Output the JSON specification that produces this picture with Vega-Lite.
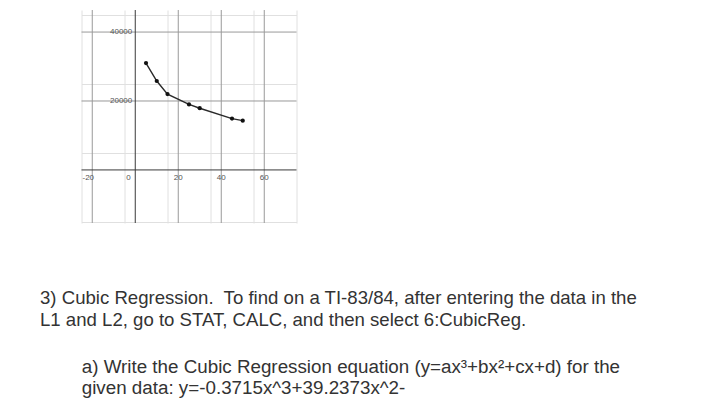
{
  "$schema": "https://vega.github.io/schema/vega-lite/v6.json",
  "width": 215,
  "height": 213,
  "autosize": "none",
  "padding": {"left": 81.5, "top": 10, "right": 404.5, "bottom": 195},
  "background": "white",
  "config": {"view": {"stroke": null}},
  "datasets": {
    "pts": [
      {"x": 5, "y": 31000},
      {"x": 10, "y": 25800},
      {"x": 15, "y": 22000},
      {"x": 25, "y": 19000},
      {"x": 30, "y": 17900},
      {"x": 45, "y": 14900},
      {"x": 50, "y": 14300}
    ],
    "majorX": [{"v": -20}, {"v": 20}, {"v": 40}, {"v": 60}],
    "majorY": [{"v": 20000}, {"v": 40000}],
    "xlab": [{"v": -20, "t": "-20"}, {"v": 0, "t": "0"}, {"v": 20, "t": "20"}, {"v": 40, "t": "40"}, {"v": 60, "t": "60"}],
    "ylab": [{"v": 20000, "t": "20000"}, {"v": 40000, "t": "40000"}],
    "origin": [{"x": 0, "y": 0}]
  },
  "title": {
    "text": ["3) Cubic Regression.\u00a0 To find on a TI-83/84, after entering the data in the", "L1 and L2, go to STAT, CALC, and then select 6:CubicReg."],
    "subtitle": ["\u200b\u00a0\u00a0\u00a0\u00a0\u00a0\u00a0\u00a0\u00a0a) Write the Cubic Regression equation (y=ax³+bx²+cx+d) for the", "\u200b\u00a0\u00a0\u00a0\u00a0\u00a0\u00a0\u00a0\u00a0given data: y=-0.3715x^3+39.2373x^2-"],
    "orient": "bottom",
    "anchor": "start",
    "dx": -41,
    "offset": 65,
    "font": "Liberation Sans",
    "fontSize": 18.6,
    "fontWeight": "normal",
    "color": "#333333",
    "lineHeight": 22,
    "subtitleFont": "Liberation Sans",
    "subtitleFontSize": 18.8,
    "subtitleColor": "#333333",
    "subtitleLineHeight": 21,
    "subtitlePadding": 29
  },
  "layer": [
    {
      "data": {"name": "origin"},
      "mark": {"type": "point", "opacity": 0},
      "encoding": {
        "x": {"field": "x", "type": "quantitative", "scale": {"domain": [-25, 75], "nice": false, "zero": false},
          "axis": {"values": [-25, -20, -15, -10, -5, 0, 5, 10, 15, 20, 25, 30, 35, 40, 45, 50, 55, 60, 65, 70, 75], "grid": true, "gridColor": "#e0e0e0", "gridWidth": 1, "domain": false, "ticks": false, "labels": false, "title": null}},
        "y": {"field": "y", "type": "quantitative", "scale": {"domain": [-15400, 46400], "nice": false, "zero": false},
          "axis": {"values": [-15000, -10000, -5000, 0, 5000, 10000, 15000, 20000, 25000, 30000, 35000, 40000, 45000], "grid": true, "gridColor": "#e0e0e0", "gridWidth": 1, "domain": false, "ticks": false, "labels": false, "title": null}}
      }
    },
    {
      "data": {"name": "majorX"},
      "mark": {"type": "rule", "color": "#999999", "strokeWidth": 1},
      "encoding": {"x": {"field": "v", "type": "quantitative"}}
    },
    {
      "data": {"name": "majorY"},
      "mark": {"type": "rule", "color": "#999999", "strokeWidth": 1},
      "encoding": {"y": {"field": "v", "type": "quantitative"}}
    },
    {
      "data": {"name": "origin"},
      "mark": {"type": "rule", "color": "#3a3a3a", "strokeWidth": 1},
      "encoding": {"x": {"field": "x", "type": "quantitative"}}
    },
    {
      "data": {"name": "origin"},
      "mark": {"type": "rule", "color": "#3a3a3a", "strokeWidth": 1},
      "encoding": {"y": {"field": "y", "type": "quantitative"}}
    },
    {
      "data": {"name": "xlab"},
      "transform": [{"filter": "datum.v > 0"}],
      "mark": {"type": "text", "font": "Liberation Sans", "fontSize": 8, "color": "#555555", "align": "center", "baseline": "top", "dy": 4},
      "encoding": {"x": {"field": "v", "type": "quantitative"}, "y": {"datum": 0, "type": "quantitative"}, "text": {"field": "t"}}
    },
    {
      "data": {"name": "xlab"},
      "transform": [{"filter": "datum.v < 0"}],
      "mark": {"type": "text", "font": "Liberation Sans", "fontSize": 8, "color": "#555555", "align": "center", "baseline": "top", "dy": 4, "dx": -4},
      "encoding": {"x": {"field": "v", "type": "quantitative"}, "y": {"datum": 0, "type": "quantitative"}, "text": {"field": "t"}}
    },
    {
      "data": {"name": "xlab"},
      "transform": [{"filter": "datum.v == 0"}],
      "mark": {"type": "text", "font": "Liberation Sans", "fontSize": 8, "color": "#555555", "align": "right", "baseline": "top", "dy": 4, "dx": -4.5},
      "encoding": {"x": {"field": "v", "type": "quantitative"}, "y": {"datum": 0, "type": "quantitative"}, "text": {"field": "t"}}
    },
    {
      "data": {"name": "ylab"},
      "mark": {"type": "text", "font": "Liberation Sans", "fontSize": 8, "color": "#555555", "align": "right", "baseline": "middle", "dx": -3},
      "encoding": {"x": {"datum": 0, "type": "quantitative"}, "y": {"field": "v", "type": "quantitative"}, "text": {"field": "t"}}
    },
    {
      "data": {"name": "pts"},
      "mark": {"type": "line", "color": "#2a2a2a", "strokeWidth": 1.4},
      "encoding": {"x": {"field": "x", "type": "quantitative"}, "y": {"field": "y", "type": "quantitative"}}
    },
    {
      "data": {"name": "pts"},
      "mark": {"type": "point", "filled": true, "color": "#111111", "size": 18, "opacity": 1},
      "encoding": {"x": {"field": "x", "type": "quantitative"}, "y": {"field": "y", "type": "quantitative"}}
    }
  ]
}
